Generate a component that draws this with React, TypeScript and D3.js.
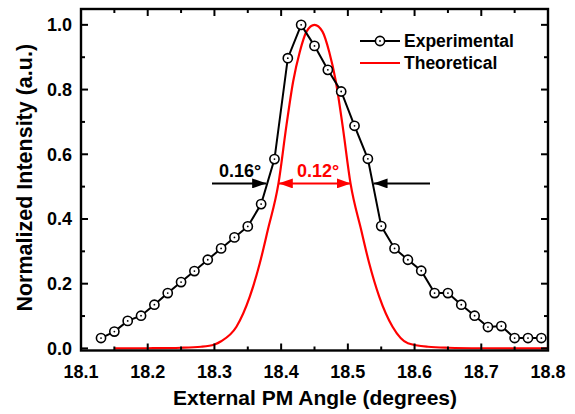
import React from "react";
import * as d3 from "d3";

const expX = [18.13, 18.15, 18.17, 18.19, 18.21, 18.23, 18.25, 18.27, 18.29, 18.31, 18.33, 18.35, 18.37, 18.39, 18.41, 18.43, 18.45, 18.47, 18.49, 18.51, 18.53, 18.55, 18.57, 18.59, 18.61, 18.63, 18.65, 18.67, 18.69, 18.71, 18.73, 18.75, 18.77, 18.79];
const expY = [0.032, 0.052, 0.085, 0.101, 0.135, 0.171, 0.205, 0.239, 0.274, 0.309, 0.343, 0.377, 0.446, 0.585, 0.897, 1.0, 0.935, 0.861, 0.794, 0.688, 0.586, 0.378, 0.309, 0.274, 0.24, 0.171, 0.171, 0.135, 0.101, 0.066, 0.069, 0.032, 0.032, 0.032];

const theoX = [18.15, 18.2, 18.25, 18.28, 18.3, 18.31, 18.333, 18.353, 18.368, 18.38, 18.396, 18.408, 18.418, 18.428, 18.438, 18.45, 18.462, 18.472, 18.482, 18.492, 18.504, 18.52, 18.532, 18.547, 18.567, 18.59, 18.62, 18.65, 18.7, 18.8];
const theoY = [0.0, 0.0005, 0.002, 0.005, 0.012, 0.022, 0.067, 0.16, 0.263, 0.366, 0.51, 0.69, 0.825, 0.917, 0.979, 1.0, 0.979, 0.917, 0.825, 0.69, 0.51, 0.366, 0.263, 0.16, 0.067, 0.016, 0.005, 0.002, 0.0005, 0.0];

const xMajor = [18.1, 18.2, 18.3, 18.4, 18.5, 18.6, 18.7, 18.8];
const xMinor = [18.15, 18.25, 18.35, 18.45, 18.55, 18.65, 18.75];
const yMajor = [0.0, 0.2, 0.4, 0.6, 0.8, 1.0];
const yMinor = [0.1, 0.3, 0.5, 0.7, 0.9];

const seriesNames = ["Experimental", "Theoretical"];
const fwhmExp = "0.16°";
const fwhmTheo = "0.12°";
const halfMax = 0.51;
const expHalfLeft = 18.379;
const expHalfRight = 18.537;
const theoHalfLeft = 18.395;
const theoHalfRight = 18.506;

export default function App() {
  const W = 575, H = 414;
  const left = 81, right = 548, top = 9, bottom = 350.5;
  const x = d3.scaleLinear().domain([18.1, 18.8]).range([left, right]);
  const y = d3.scaleLinear().domain([-0.0065, 1.049]).range([bottom, top]);
  const font = "'Liberation Sans', Arial, sans-serif";

  const expPts: [number, number][] = expX.map((v, i) => [v, expY[i]]);
  const theoPts: [number, number][] = theoX.map((v, i) => [v, theoY[i]]);
  const lineGen = d3.line<[number, number]>().x(d => x(d[0])).y(d => y(d[1]));
  const smoothGen = d3.line<[number, number]>().x(d => x(d[0])).y(d => y(d[1])).curve(d3.curveMonotoneX);

  const ay = y(halfMax);
  const red = "#ff0000";

  return (
    <svg width={W} height={H} style={{ position: "absolute", left: 0, top: 0 }} fontFamily={font}>
      <defs>
        <marker id="ahb" viewBox="0 0 14 10" refX="14" refY="5" markerWidth="14" markerHeight="10" markerUnits="userSpaceOnUse" orient="auto">
          <path d="M0,0 L14,5 L0,10 z" fill="#000" />
        </marker>
        <marker id="ahr" viewBox="0 0 14 10" refX="14" refY="5" markerWidth="14" markerHeight="10" markerUnits="userSpaceOnUse" orient="auto-start-reverse">
          <path d="M0,0 L14,5 L0,10 z" fill={red} />
        </marker>
      </defs>
      <rect x={0} y={0} width={W} height={H} fill="#fff" />
      {/* theoretical */}
      <path d={smoothGen(theoPts) || ""} fill="none" stroke={red} strokeWidth={2.2} />
      {/* experimental */}
      <path d={lineGen(expPts) || ""} fill="none" stroke="#000" strokeWidth={2} />
      {expPts.map((p, i) => (
        <g key={i}>
          <circle cx={x(p[0])} cy={y(p[1])} r={4.6} fill="#fff" stroke="#000" strokeWidth={1.6} />
          <circle cx={x(p[0])} cy={y(p[1])} r={0.9} fill="#000" />
        </g>
      ))}
      {/* annotations */}
      <line x1={212} y1={ay} x2={x(expHalfLeft) - 1} y2={ay} stroke="#000" strokeWidth={2} markerEnd="url(#ahb)" />
      <line x1={430} y1={ay} x2={x(expHalfRight) + 1} y2={ay} stroke="#000" strokeWidth={2} markerEnd="url(#ahb)" />
      <line x1={x(theoHalfLeft) + 1} y1={ay} x2={x(theoHalfRight) - 1} y2={ay} stroke={red} strokeWidth={2} markerStart="url(#ahr)" markerEnd="url(#ahr)" />
      <text x={240} y={177} fontSize={18} fontWeight="bold" textAnchor="middle" fill="#000">{fwhmExp}</text>
      <text x={318} y={177} fontSize={18} fontWeight="bold" textAnchor="middle" fill={red}>{fwhmTheo}</text>
      {/* legend */}
      <line x1={360} y1={41} x2={400} y2={41} stroke="#000" strokeWidth={2} />
      <circle cx={380} cy={41} r={4.6} fill="#fff" stroke="#000" strokeWidth={1.6} />
      <circle cx={380} cy={41} r={0.9} fill="#000" />
      <text x={404} y={47} fontSize={17.5} fontWeight="bold">{seriesNames[0]}</text>
      <line x1={360} y1={63} x2={400} y2={63} stroke={red} strokeWidth={2.2} />
      <text x={404} y={69} fontSize={17.5} fontWeight="bold">{seriesNames[1]}</text>
      {/* ticks */}
      {xMajor.map((t, i) => (
        <g key={"xm" + i}>
          <line x1={x(t)} x2={x(t)} y1={bottom} y2={bottom - 7} stroke="#000" strokeWidth={2} />
          <line x1={x(t)} x2={x(t)} y1={top} y2={top + 7} stroke="#000" strokeWidth={2} />
          <text x={x(t)} y={378} fontSize={18} fontWeight="bold" textAnchor="middle">{t.toFixed(1)}</text>
        </g>
      ))}
      {xMinor.map((t, i) => (
        <g key={"xn" + i}>
          <line x1={x(t)} x2={x(t)} y1={bottom} y2={bottom - 4} stroke="#000" strokeWidth={2} />
          <line x1={x(t)} x2={x(t)} y1={top} y2={top + 4} stroke="#000" strokeWidth={2} />
        </g>
      ))}
      {yMajor.map((t, i) => (
        <g key={"ym" + i}>
          <line x1={left} x2={left + 7} y1={y(t)} y2={y(t)} stroke="#000" strokeWidth={2} />
          <line x1={right} x2={right - 7} y1={y(t)} y2={y(t)} stroke="#000" strokeWidth={2} />
          <text x={72} y={y(t)} dy="0.36em" fontSize={18} fontWeight="bold" textAnchor="end">{t.toFixed(1)}</text>
        </g>
      ))}
      {yMinor.map((t, i) => (
        <g key={"yn" + i}>
          <line x1={left} x2={left + 4} y1={y(t)} y2={y(t)} stroke="#000" strokeWidth={2} />
          <line x1={right} x2={right - 4} y1={y(t)} y2={y(t)} stroke="#000" strokeWidth={2} />
        </g>
      ))}
      <rect x={left} y={top} width={right - left} height={bottom - top} fill="none" stroke="#000" strokeWidth={2.4} />
      <text x={315} y={405} fontSize={21} fontWeight="bold" textAnchor="middle">External PM Angle (degrees)</text>
      <text transform={`translate(32,${(top + bottom) / 2 - 2}) rotate(-90)`} fontSize={21.5} fontWeight="bold" textAnchor="middle">Normalized Intensity (a.u.)</text>
    </svg>
  );
}
